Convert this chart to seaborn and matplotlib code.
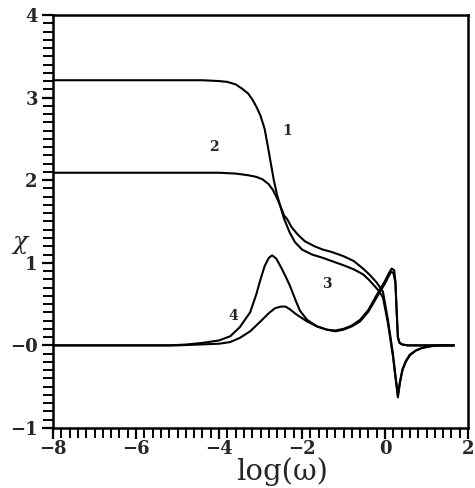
import numpy as np
import pandas as pd
import matplotlib
matplotlib.use("Agg")
import matplotlib.pyplot as plt
from matplotlib.ticker import MultipleLocator, FixedLocator, FixedFormatter
import seaborn as sns

# Susceptibility spectra versus log frequency
x1 = [-8.0, -5.0, -4.4, -4.0, -3.8, -3.6, -3.45, -3.3, -3.2, -3.1, -3.0, -2.9, -2.82,
      -2.75, -2.68, -2.6, -2.52, -2.43, -2.3, -2.17, -2.0, -1.76, -1.5, -1.28, -1.0,
      -0.75, -0.53, -0.4, -0.29, -0.15, -0.05, 0.07, 0.19, 0.25, 0.31, 0.36, 0.42,
      0.5, 0.6, 0.75, 0.9, 1.1, 1.3, 1.66]
chi1 = [3.21, 3.21, 3.21, 3.20, 3.19, 3.16, 3.11, 3.05, 2.98, 2.89, 2.78, 2.62, 2.40,
        2.20, 2.00, 1.82, 1.68, 1.53, 1.37, 1.25, 1.16, 1.10, 1.06, 1.02, 0.97,
        0.92, 0.86, 0.80, 0.74, 0.66, 0.58, 0.27, -0.13, -0.38, -0.63, -0.45, -0.30,
        -0.20, -0.12, -0.06, -0.03, -0.01, 0.0, 0.0]

x2 = [-8.0, -4.5, -4.0, -3.6, -3.3, -3.1, -2.95, -2.8, -2.7, -2.6, -2.5, -2.43, -2.36,
      -2.25, -2.1, -1.93, -1.7, -1.5, -1.28, -1.0, -0.75, -0.53, -0.36, -0.2, -0.05,
      0.07, 0.19, 0.25, 0.31, 0.36, 0.42, 0.5, 0.6, 0.75, 0.9, 1.1, 1.3, 1.66]
chi2 = [2.09, 2.09, 2.09, 2.08, 2.06, 2.04, 2.01, 1.95, 1.88, 1.78, 1.66, 1.57, 1.53,
        1.43, 1.34, 1.26, 1.20, 1.16, 1.13, 1.08, 1.02, 0.93, 0.85, 0.76, 0.65,
        0.31, -0.10, -0.36, -0.60, -0.44, -0.29, -0.19, -0.11, -0.06, -0.03, -0.01, 0.0, 0.0]

x3 = [-8.0, -5.2, -4.8, -4.4, -4.0, -3.73, -3.5, -3.25, -3.1, -3.0, -2.9, -2.8, -2.72,
      -2.62, -2.5, -2.4, -2.29, -2.15, -2.05, -1.88, -1.64, -1.4, -1.2, -1.0, -0.8,
      -0.6, -0.4, -0.19, 0.0, 0.1, 0.16, 0.22, 0.25, 0.28, 0.31, 0.35, 0.42, 0.55,
      0.8, 1.2, 1.66]
chi3 = [0.0, 0.0, 0.01, 0.03, 0.06, 0.11, 0.22, 0.40, 0.62, 0.80, 0.96, 1.06, 1.09,
        1.05, 0.94, 0.84, 0.72, 0.54, 0.42, 0.31, 0.23, 0.19, 0.18, 0.20, 0.24,
        0.31, 0.43, 0.62, 0.78, 0.88, 0.93, 0.91, 0.78, 0.42, 0.10, 0.03, 0.01, 0.0,
        0.0, 0.0, 0.0]

x4 = [-8.0, -5.0, -4.5, -4.0, -3.73, -3.5, -3.25, -3.0, -2.8, -2.65, -2.5, -2.4, -2.3,
      -2.15, -2.0, -1.88, -1.64, -1.4, -1.2, -1.0, -0.8, -0.6, -0.4, -0.19, 0.0, 0.1,
      0.15, 0.2, 0.25, 0.28, 0.31, 0.35, 0.42, 0.55, 0.8, 1.2, 1.66]
chi4 = [0.0, 0.0, 0.01, 0.02, 0.04, 0.09, 0.17, 0.29, 0.39, 0.45, 0.47, 0.47, 0.44,
        0.38, 0.33, 0.29, 0.23, 0.19, 0.17, 0.19, 0.23, 0.29, 0.41, 0.59, 0.75, 0.85,
        0.89, 0.88, 0.76, 0.42, 0.10, 0.03, 0.01, 0.0, 0.0, 0.0, 0.0]

curve_names = ["1", "2", "3", "4"]
label_x = [-2.36, -4.12, -1.40, -3.66]
label_y = [2.59, 2.40, 0.74, 0.36]

x_ticks = [-8, -6, -4, -2, 0, 2]
x_tick_labels = ["\u22128", "\u22126", "\u22124", "\u22122", "0", "2"]
y_ticks = [-1, 0, 1, 2, 3, 4]
y_tick_labels = ["\u22121", "\u22120", "1", "2", "3", "4"]

frames = []
for name, xs, ys in zip(curve_names, [x1, x2, x3, x4], [chi1, chi2, chi3, chi4]):
    frames.append(pd.DataFrame({"logw": xs, "chi": ys, "curve": name}))
df = pd.concat(frames, ignore_index=True)

sns.set_style("ticks")
plt.rcParams["font.family"] = ["DejaVu Serif"]

fig = plt.figure(figsize=(4.75, 4.88), dpi=100)
ax = fig.add_axes([0.1116, 0.123, 0.8737, 0.8463])

sns.lineplot(data=df, x="logw", y="chi", units="curve", estimator=None,
             sort=False, color="black", linewidth=1.5, ax=ax)

for name, lx, ly in zip(curve_names, label_x, label_y):
    ax.text(lx, ly, name, ha="center", va="center", fontsize=10,
            fontweight="bold", family="DejaVu Serif")

ax.set_xlim(-8, 2)
ax.set_ylim(-1, 4)
ax.xaxis.set_major_locator(FixedLocator(x_ticks))
ax.xaxis.set_major_formatter(FixedFormatter(x_tick_labels))
ax.yaxis.set_major_locator(FixedLocator(y_ticks))
ax.yaxis.set_major_formatter(FixedFormatter(y_tick_labels))
ax.xaxis.set_minor_locator(MultipleLocator(0.2))
ax.yaxis.set_minor_locator(MultipleLocator(0.1))

ax.tick_params(which="major", direction="out", length=8, width=1.6,
               labelsize=13, color="black")
ax.tick_params(axis="x", which="major", pad=1)
ax.tick_params(axis="y", which="major", pad=3)
ax.tick_params(which="minor", direction="out", length=7, width=1.4, color="black")
for lab in ax.get_xticklabels() + ax.get_yticklabels():
    lab.set_fontweight("bold")

for side in ["left", "bottom", "top", "right"]:
    ax.spines[side].set_visible(True)
    ax.spines[side].set_linewidth(1.8)
    ax.spines[side].set_color("black")

ax.set_xlabel("")
ax.set_ylabel("")
fig.text(282 / 475, 1 - 472 / 488, "log(\u03c9)", ha="center", va="center",
         fontsize=21, family="DejaVu Serif")
fig.text(20 / 475, 1 - 242 / 488, "\u03c7", ha="center", va="center",
         fontsize=18, family="DejaVu Serif", style="italic")

fig.savefig("out.png", dpi=100)
